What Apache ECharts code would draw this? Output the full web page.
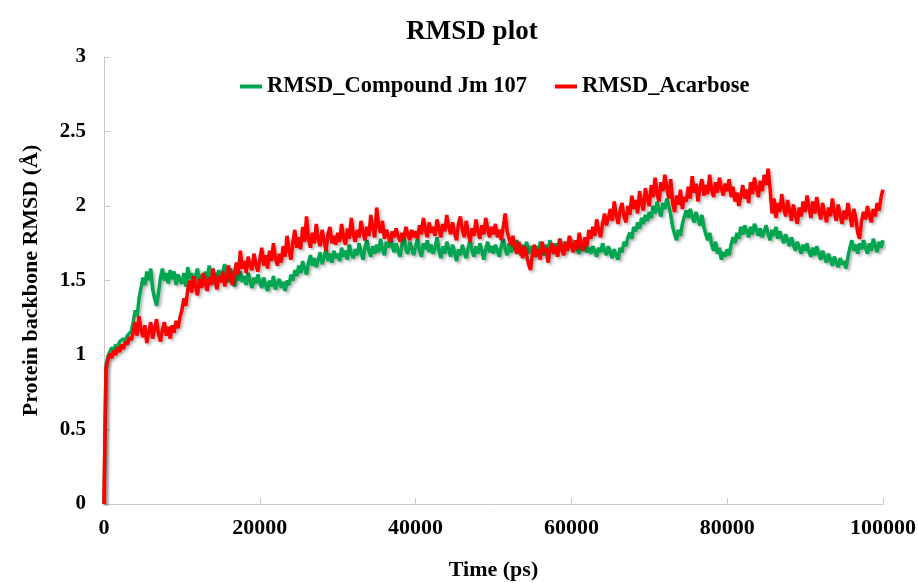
<!DOCTYPE html>
<html lang="en">
  <head>
    <meta charset="UTF-8" />
    <title>RMSD plot</title>
    <script src="https://cdn.jsdelivr.net/npm/echarts@6/dist/echarts.min.js"></script>
    <style>
      body{margin:0;padding:0;background:#fff;}
      #chart{width:918px;height:583px;}
    </style>
  </head>
  <body>
    <div id="chart"></div>
    <script>
      // one sample every 250 ps, 0 .. 100000 ps
      var step = 250;
      var seriesNames = ['RMSD_Compound Jm 107', 'RMSD_Acarbose'];

      var compound = [
        0, 0.93, 0.99, 1.02, 1.05, 1.03, 1.07, 1.05, 1.09, 1.08,
        1.11, 1.09, 1.13, 1.12, 1.16, 1.22, 1.30, 1.26, 1.38, 1.45,
        1.52, 1.47, 1.56, 1.50, 1.58, 1.44, 1.38, 1.33, 1.42, 1.52,
        1.58, 1.50, 1.55, 1.48, 1.57, 1.51, 1.56, 1.47, 1.54, 1.50,
        1.48, 1.55, 1.46, 1.59, 1.51, 1.55, 1.47, 1.53, 1.58, 1.49,
        1.54, 1.47, 1.56, 1.50, 1.60, 1.52, 1.48, 1.55, 1.51, 1.57,
        1.50, 1.56, 1.61, 1.53, 1.49, 1.58, 1.52, 1.46, 1.54, 1.50,
        1.56, 1.49, 1.53, 1.47, 1.55, 1.50, 1.45, 1.52, 1.48, 1.54,
        1.49, 1.45, 1.52, 1.47, 1.43, 1.50, 1.46, 1.53, 1.44, 1.48,
        1.51, 1.45, 1.49, 1.43, 1.50, 1.47, 1.54, 1.50, 1.57, 1.53,
        1.60, 1.55, 1.63, 1.58, 1.54, 1.62, 1.67, 1.60, 1.65, 1.59,
        1.64, 1.69, 1.61, 1.66, 1.71, 1.63, 1.68, 1.62, 1.70, 1.65,
        1.68, 1.63, 1.72, 1.66, 1.70, 1.64, 1.74, 1.68, 1.65, 1.71,
        1.67, 1.75, 1.69, 1.64, 1.72, 1.77, 1.70, 1.66, 1.73, 1.68,
        1.74, 1.69, 1.78, 1.71, 1.67, 1.76, 1.72, 1.80, 1.73, 1.69,
        1.75, 1.70, 1.66, 1.74, 1.79, 1.71, 1.68, 1.76, 1.72, 1.67,
        1.73, 1.78, 1.70, 1.66, 1.75, 1.71, 1.77, 1.69, 1.74, 1.68,
        1.72, 1.79, 1.70, 1.65, 1.73, 1.68, 1.76, 1.71, 1.66, 1.74,
        1.69, 1.63, 1.71, 1.67, 1.74, 1.69, 1.65, 1.72, 1.77, 1.70,
        1.66, 1.73, 1.68, 1.75, 1.70, 1.64, 1.71, 1.76, 1.69, 1.73,
        1.68, 1.74, 1.70, 1.66, 1.73, 1.78, 1.71, 1.67, 1.75, 1.69,
        1.74, 1.70, 1.77, 1.72, 1.67, 1.74, 1.70, 1.76, 1.68, 1.73,
        1.70, 1.66, 1.73, 1.69, 1.76, 1.71, 1.67, 1.74, 1.70, 1.77,
        1.72, 1.68, 1.75, 1.71, 1.78, 1.73, 1.69, 1.76, 1.72, 1.79,
        1.74, 1.70, 1.77, 1.71, 1.68, 1.74, 1.70, 1.75, 1.69, 1.72,
        1.68, 1.73, 1.70, 1.66, 1.72, 1.69, 1.75, 1.70, 1.67, 1.73,
        1.69, 1.65, 1.71, 1.67, 1.64, 1.72, 1.69, 1.76, 1.73, 1.79,
        1.82, 1.78, 1.86, 1.83, 1.89, 1.85, 1.92, 1.88, 1.94, 1.90,
        1.96, 1.92, 2.00, 1.95, 2.03, 1.97, 1.93, 2.02, 1.98, 2.05,
        2.00, 1.94, 1.86, 1.81, 1.77, 1.84, 1.80, 1.88, 1.93, 1.97,
        1.92, 1.98, 1.93, 1.89, 1.96, 1.91, 1.87, 1.94, 1.86, 1.81,
        1.77, 1.82, 1.74, 1.70, 1.76, 1.68, 1.72, 1.64, 1.69, 1.66,
        1.71, 1.67, 1.74, 1.79, 1.75, 1.82, 1.78, 1.86, 1.81, 1.87,
        1.83, 1.79, 1.86, 1.81, 1.88, 1.84, 1.80, 1.85, 1.79, 1.83,
        1.87, 1.81, 1.77, 1.84, 1.80, 1.86, 1.78, 1.83, 1.79, 1.75,
        1.81, 1.77, 1.73, 1.79, 1.74, 1.70, 1.76, 1.72, 1.68, 1.74,
        1.70, 1.75, 1.69, 1.66, 1.72, 1.67, 1.73, 1.68, 1.64, 1.70,
        1.66, 1.62, 1.68, 1.64, 1.60, 1.66, 1.62, 1.59, 1.65, 1.61,
        1.63, 1.58, 1.66, 1.72, 1.77, 1.70, 1.74, 1.68, 1.75, 1.71,
        1.77, 1.72, 1.68, 1.75, 1.70, 1.78, 1.73, 1.69, 1.76, 1.72,
        1.77
      ];

      var acarbose = [
        0, 0.90, 0.97, 1.01, 0.98, 1.03, 1.00, 1.05, 1.02, 1.07,
        1.04, 1.09, 1.07, 1.12, 1.10, 1.15, 1.22, 1.13, 1.26, 1.17,
        1.12, 1.20, 1.08, 1.16, 1.22, 1.11, 1.18, 1.24, 1.14, 1.09,
        1.17, 1.22, 1.13, 1.19, 1.11, 1.20, 1.15, 1.23, 1.18, 1.25,
        1.30, 1.38, 1.33, 1.44, 1.50, 1.42, 1.53, 1.46, 1.40, 1.51,
        1.45, 1.55, 1.48, 1.43, 1.52, 1.47, 1.58, 1.50, 1.44, 1.53,
        1.49, 1.56, 1.46, 1.52, 1.60, 1.51, 1.47, 1.55, 1.62, 1.54,
        1.70, 1.58, 1.63, 1.55, 1.66, 1.60, 1.57, 1.68, 1.61, 1.56,
        1.64, 1.72, 1.60, 1.67, 1.58, 1.70, 1.63, 1.75, 1.65, 1.60,
        1.68, 1.62, 1.73, 1.66, 1.80, 1.70, 1.64, 1.76, 1.84, 1.72,
        1.79, 1.71, 1.86, 1.76, 1.93, 1.78, 1.72, 1.82, 1.75, 1.88,
        1.78, 1.73, 1.84, 1.77, 1.70, 1.81, 1.86, 1.75, 1.80, 1.74,
        1.82, 1.76, 1.88, 1.79, 1.74, 1.85, 1.78, 1.92, 1.81, 1.76,
        1.84, 1.79, 1.90, 1.83, 1.77, 1.86, 1.80, 1.94, 1.85, 1.79,
        1.99, 1.87, 1.82, 1.90, 1.78, 1.84, 1.80, 1.76, 1.83, 1.79,
        1.85, 1.80, 1.76, 1.82, 1.78, 1.86, 1.81, 1.77, 1.84, 1.79,
        1.83, 1.78, 1.87, 1.81, 1.92, 1.84, 1.79, 1.89, 1.82, 1.86,
        1.80, 1.91, 1.85, 1.79, 1.88, 1.83, 1.94, 1.86, 1.81, 1.89,
        1.82, 1.77, 1.88, 1.93, 1.84, 1.79, 1.90, 1.82, 1.76, 1.85,
        1.80, 1.91, 1.83, 1.78, 1.87, 1.81, 1.92, 1.85, 1.79, 1.86,
        1.81, 1.88, 1.79, 1.84, 1.77, 1.86, 1.95, 1.83, 1.78, 1.74,
        1.80, 1.72, 1.68, 1.76, 1.70, 1.65, 1.73, 1.67, 1.61, 1.57,
        1.68, 1.74, 1.66, 1.71, 1.64, 1.76, 1.69, 1.72, 1.62, 1.70,
        1.75, 1.68, 1.73, 1.66, 1.78, 1.71, 1.67, 1.76, 1.70, 1.80,
        1.73, 1.69, 1.77, 1.71, 1.82, 1.75, 1.70, 1.79, 1.73, 1.84,
        1.78, 1.86, 1.80, 1.91, 1.84, 1.79, 1.88, 1.95, 1.87, 1.92,
        1.98, 1.90, 2.03, 1.94, 1.88, 1.97, 2.02, 1.93, 1.89, 2.00,
        1.94, 2.07, 1.98, 2.04, 1.95, 2.10, 2.02, 1.97, 2.12, 2.05,
        2.00, 2.14, 2.06, 2.19, 2.08, 2.03, 2.16, 2.10, 2.21, 2.12,
        2.05, 2.18, 2.02, 1.96, 2.07, 2.01, 2.11, 1.98, 2.06, 2.03,
        2.13, 2.05, 2.20, 2.09, 2.15, 2.03, 2.12, 2.18, 2.07, 2.14,
        2.08, 2.21, 2.11, 2.06, 2.16, 2.09, 2.19, 2.12, 2.07, 2.15,
        2.10, 2.18, 2.06, 2.13, 2.03, 2.09, 2.00, 2.07, 2.14, 2.05,
        2.11, 2.02, 2.16, 2.08, 2.19, 2.12, 2.06, 2.17, 2.10, 2.21,
        2.14, 2.25, 2.12, 1.95, 2.05, 1.92, 2.02, 1.96, 2.08, 1.99,
        1.93, 2.04, 1.97, 1.90, 2.01, 1.94, 1.88, 1.99, 1.93, 2.03,
        1.96, 2.07, 1.99, 1.92, 2.03, 1.95, 2.06, 1.97, 1.91, 2.02,
        1.95, 1.89, 1.99, 1.93, 2.05, 1.96, 1.90, 2.01, 1.94, 1.88,
        1.97, 1.91, 2.02, 1.94, 1.86, 1.98, 1.92, 1.82, 1.78, 1.90,
        1.96, 1.91, 2.00, 1.94, 1.89, 1.98, 1.93, 2.02, 1.97, 2.06,
        2.11
      ];

      function toPairs(arr) {
        return arr.map(function (v, i) { return [i * step, v]; });
      }

      var font = '"Liberation Serif", "Times New Roman", serif';
      var axisGray = '#c8c8c8';

      var myChart = echarts.init(document.getElementById('chart'));
      var lineShadow = {shadowColor: 'rgba(0,0,0,0.3)', shadowBlur: 3, shadowOffsetX: 2, shadowOffsetY: 2};

      var option = {
        animation: false,
        backgroundColor: '#fff',
        title: {
          text: 'RMSD plot',
          left: 467,
          top: 14,
          textAlign: 'center',
          textStyle: {fontFamily: font, fontWeight: 'bold', fontSize: 27, color: '#000'}
        },
        legend: {
          left: 235,
          top: 70,
          itemWidth: 22,
          itemHeight: 4,
          itemGap: 28,
          icon: 'rect',
          textStyle: {fontFamily: font, fontWeight: 'bold', fontSize: 22.5, color: '#000'},
          data: seriesNames
        },
        grid: {left: 104, right: 35, top: 57, bottom: 79, outerBoundsMode: 'none'},
        xAxis: {
          type: 'value',
          min: 0,
          max: 100000,
          interval: 20000,
          name: 'Time (ps)',
          nameLocation: 'middle',
          nameGap: 55,
          nameTextStyle: {fontFamily: font, fontWeight: 'bold', fontSize: 22, color: '#000'},
          axisLine: {lineStyle: {color: axisGray, width: 1}},
          axisTick: {inside: true, length: 6, lineStyle: {color: axisGray}},
          axisLabel: {
            fontFamily: font, fontWeight: 'bold', fontSize: 22, color: '#000', margin: 13,
            formatter: function (v) { return String(v); }
          },
          splitLine: {show: false}
        },
        yAxis: {
          type: 'value',
          min: 0,
          max: 3,
          interval: 0.5,
          name: 'Protein backbone RMSD (Å)',
          nameLocation: 'middle',
          nameGap: 62,
          nameTextStyle: {fontFamily: font, fontWeight: 'bold', fontSize: 22, color: '#000'},
          axisLine: {show: true, lineStyle: {color: axisGray, width: 1}},
          axisTick: {show: true, inside: true, length: 6, lineStyle: {color: axisGray}},
          axisLabel: {fontFamily: font, fontWeight: 'bold', fontSize: 21, color: '#000', margin: 18},
          splitLine: {show: false}
        },
        series: [
          {
            name: seriesNames[0],
            type: 'line',
            symbol: 'none',
            data: toPairs(compound),
            itemStyle: {color: '#00a650'},
            lineStyle: Object.assign({color: '#00a650', width: 3.5}, lineShadow)
          },
          {
            name: seriesNames[1],
            type: 'line',
            symbol: 'none',
            data: toPairs(acarbose),
            itemStyle: {color: '#ff0000'},
            lineStyle: Object.assign({color: '#ff0000', width: 3.5}, lineShadow)
          }
        ]
      };

      myChart.setOption(option);
    </script>
  </body>
</html>
